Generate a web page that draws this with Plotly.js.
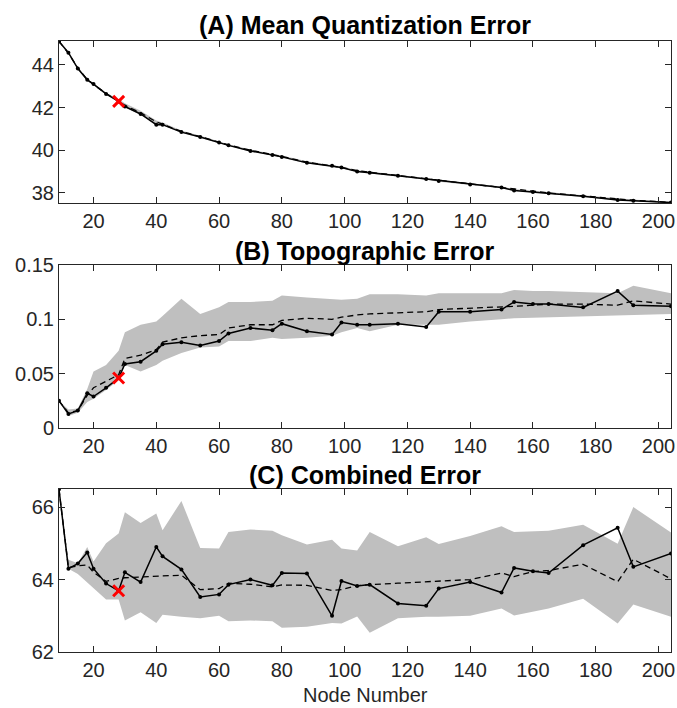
<!DOCTYPE html>
<html>
<head>
<meta charset="utf-8">
<script src="https://cdn.plot.ly/plotly-3.0.1.min.js"></script>
<style>html,body{margin:0;padding:0;background:#fff;}#chart{width:677px;height:708px;}</style>
</head>
<body>
<div id="chart"></div>
<script>
// ---- data ----
const nodes = [9, 12, 15, 18, 20, 24, 28, 30, 35, 40, 42, 48, 54, 60, 63, 70, 77, 80, 88, 96, 99, 104, 108, 117, 126, 130, 140, 150, 154, 160, 165, 176, 187, 192, 204];
const selectedNode = 28;
const xTicks = [20, 40, 60, 80, 100, 120, 140, 160, 180, 200];

// (A) Mean Quantization Error
const qeObserved = [45.1, 44.57, 43.83, 43.3, 43.1, 42.64, 42.29, 42.05, 41.7, 41.2, 41.2, 40.85, 40.62, 40.36, 40.23, 39.97, 39.78, 39.69, 39.41, 39.27, 39.19, 39.0, 38.95, 38.8, 38.65, 38.56, 38.4, 38.25, 38.12, 38.05, 37.98, 37.84, 37.67, 37.64, 37.55];
const qeMean = [45.1, 44.55, 43.85, 43.32, 43.08, 42.66, 42.3, 42.1, 41.76, 41.33, 41.22, 40.88, 40.64, 40.38, 40.25, 40.0, 39.8, 39.71, 39.44, 39.28, 39.2, 39.04, 38.97, 38.82, 38.67, 38.59, 38.42, 38.26, 38.16, 38.07, 38.0, 37.86, 37.72, 37.66, 37.56];
const qeLow = [45.1, 44.52, 43.8, 43.27, 43.05, 42.6, 42.25, 42.02, 41.66, 41.18, 41.16, 40.82, 40.59, 40.33, 40.2, 39.94, 39.75, 39.66, 39.38, 39.24, 39.16, 38.98, 38.92, 38.77, 38.62, 38.53, 38.37, 38.22, 38.1, 38.02, 37.95, 37.81, 37.65, 37.61, 37.53];
const qeHigh = [45.1, 44.6, 43.88, 43.35, 43.13, 42.7, 42.4, 42.2, 41.85, 41.4, 41.3, 40.93, 40.68, 40.42, 40.28, 40.03, 39.84, 39.75, 39.48, 39.32, 39.24, 39.07, 39.0, 38.85, 38.7, 38.62, 38.45, 38.3, 38.19, 38.1, 38.03, 37.89, 37.75, 37.69, 37.58];
const qeTicks = [38, 40, 42, 44];

// (B) Topographic Error
const teObserved = [0.025, 0.013, 0.016, 0.032, 0.029, 0.037, 0.046, 0.059, 0.061, 0.071, 0.077, 0.079, 0.076, 0.080, 0.087, 0.092, 0.090, 0.096, 0.089, 0.086, 0.097, 0.095, 0.095, 0.096, 0.093, 0.107, 0.107, 0.109, 0.116, 0.114, 0.114, 0.111, 0.126, 0.113, 0.112];
const teMean = [0.025, 0.014, 0.016, 0.030, 0.037, 0.043, 0.049, 0.064, 0.067, 0.072, 0.079, 0.083, 0.085, 0.086, 0.092, 0.095, 0.095, 0.099, 0.101, 0.100, 0.102, 0.104, 0.105, 0.106, 0.107, 0.109, 0.110, 0.111, 0.112, 0.113, 0.114, 0.114, 0.113, 0.117, 0.114];
const teLow = [0.025, 0.011, 0.014, 0.024, 0.027, 0.035, 0.044, 0.058, 0.052, 0.058, 0.062, 0.069, 0.074, 0.075, 0.080, 0.080, 0.083, 0.082, 0.083, 0.085, 0.088, 0.092, 0.089, 0.095, 0.095, 0.095, 0.098, 0.100, 0.101, 0.102, 0.102, 0.103, 0.104, 0.104, 0.105];
const teHigh = [0.025, 0.017, 0.018, 0.036, 0.052, 0.058, 0.071, 0.088, 0.095, 0.098, 0.103, 0.119, 0.105, 0.111, 0.116, 0.116, 0.117, 0.122, 0.120, 0.119, 0.118, 0.119, 0.123, 0.123, 0.122, 0.124, 0.124, 0.124, 0.127, 0.126, 0.126, 0.125, 0.124, 0.131, 0.124];
const teTicks = [0, 0.05, 0.1, 0.15];
const teTickText = ['0', '0.05', '0.1', '0.15'];

// (C) Combined Error
const ceObserved = [66.49, 64.3, 64.44, 64.75, 64.3, 63.89, 63.69, 64.2, 63.93, 64.9, 64.64, 64.28, 63.52, 63.59, 63.86, 64.0, 63.84, 64.18, 64.17, 63.0, 63.96, 63.82, 63.86, 63.34, 63.28, 63.75, 63.93, 63.64, 64.32, 64.23, 64.18, 64.95, 65.43, 64.35, 64.72];
const ceMean = [66.49, 64.33, 64.38, 64.4, 64.2, 63.95, 64.03, 64.05, 64.07, 64.08, 64.1, 64.12, 63.72, 63.75, 63.9, 63.87, 63.8, 63.85, 63.84, 63.7, 63.72, 63.83, 63.86, 63.9, 63.94, 63.96, 64.0, 64.18, 64.08, 64.22, 64.25, 64.42, 63.94, 64.56, 64.02];
const ceLow = [66.49, 64.3, 64.15, 63.9, 63.75, 63.45, 63.45, 62.87, 63.1, 62.8, 63.03, 62.97, 62.93, 63.0, 62.85, 62.87, 62.85, 62.67, 62.7, 62.8, 62.79, 62.98, 62.53, 62.93, 62.97, 62.97, 63.0, 63.2, 63.01, 63.12, 63.2, 63.47, 62.79, 63.31, 62.97];
const ceHigh = [66.49, 64.55, 64.45, 64.9, 64.5, 65.0, 65.27, 65.86, 65.56, 65.82, 65.36, 66.17, 64.87, 64.86, 65.31, 65.38, 65.35, 65.22, 64.97, 65.1, 64.86, 64.8, 65.31, 64.92, 65.17, 64.98, 65.2, 65.47, 65.31, 65.33, 65.35, 65.51, 64.99, 66.0, 65.3];
const ceTicks = [62, 64, 66];

const titles = ['(A) Mean Quantization Error', '(B) Topographic Error', '(C) Combined Error'];
const xTitle = 'Node Number';

// ---- build ----
const FONT = 'Liberation Sans, Arial, Helvetica, sans-serif';
const AX = '#262626';
const selIdx = nodes.indexOf(selectedNode);

function panel(obs, mean, lo, hi, xa, ya) {
  const bx = nodes.concat(nodes.slice().reverse());
  const by = hi.concat(lo.slice().reverse());
  return [
    {x: bx, y: by, xaxis: xa, yaxis: ya, type: 'scatter', mode: 'lines', fill: 'toself',
     fillcolor: '#bfbfbf', line: {width: 0, color: '#bfbfbf'}, hoverinfo: 'skip'},
    {x: nodes, y: mean, xaxis: xa, yaxis: ya, type: 'scatter', mode: 'lines',
     line: {color: '#000', width: 1.3, dash: '6px,4px'}},
    {x: nodes, y: obs, xaxis: xa, yaxis: ya, type: 'scatter', mode: 'lines+markers',
     line: {color: '#000', width: 1.5}, marker: {color: '#000', size: 4}},
    {x: [nodes[selIdx]], y: [obs[selIdx]], xaxis: xa, yaxis: ya, type: 'scatter', mode: 'markers',
     marker: {symbol: 'x-thin', size: 11, line: {color: '#ff0000', width: 3}}}
  ];
}

const data = []
  .concat(panel(qeObserved, qeMean, qeLow, qeHigh, 'x', 'y'))
  .concat(panel(teObserved, teMean, teLow, teHigh, 'x2', 'y2'))
  .concat(panel(ceObserved, ceMean, ceLow, ceHigh, 'x3', 'y3'));

function axis(extra) {
  return Object.assign({
    showline: true, linecolor: AX, linewidth: 1, mirror: 'ticks',
    ticks: 'inside', ticklen: 6, tickcolor: AX, tickwidth: 1,
    showgrid: false, zeroline: false,
    tickfont: {family: FONT, size: 20, color: AX}
  }, extra);
}
const xcommon = {range: [9, 204], tickvals: xTicks};

function titleAnn(text, y) {
  return {text: '<b>' + text + '</b>', xref: 'paper', yref: 'paper', x: 0.5, y: y,
          xanchor: 'center', yanchor: 'middle', showarrow: false,
          font: {family: FONT, size: 25, color: '#000'}};
}

const layout = {
  width: 677, height: 708,
  margin: {l: 59, r: 6, t: 41, b: 56},
  paper_bgcolor: '#fff', plot_bgcolor: '#fff',
  showlegend: false,
  xaxis: axis(Object.assign({anchor: 'y', domain: [0, 1]}, xcommon)),
  yaxis: axis({anchor: 'x', domain: [0.7349, 1], range: [37.53, 45.12], tickvals: qeTicks}),
  xaxis2: axis(Object.assign({anchor: 'y2', domain: [0, 1]}, xcommon)),
  yaxis2: axis({anchor: 'x2', domain: [0.3666, 0.6334], range: [0, 0.15], tickvals: teTicks, ticktext: teTickText}),
  xaxis3: axis(Object.assign({anchor: 'y3', domain: [0, 1]}, xcommon)),
  yaxis3: axis({anchor: 'x3', domain: [0, 0.2668], range: [62, 66.5], tickvals: ceTicks}),
  annotations: [
    titleAnn(titles[0], 1.0254),
    titleAnn(titles[1], 0.6571),
    titleAnn(titles[2], 0.2905),
    {text: xTitle, xref: 'paper', yref: 'paper', x: 0.5, y: -0.0705, xanchor: 'center', yanchor: 'middle', showarrow: false, font: {family: FONT, size: 20, color: AX}}
  ]
};

Plotly.newPlot('chart', data, layout, {displayModeBar: false, staticPlot: true});
</script>
</body>
</html>
